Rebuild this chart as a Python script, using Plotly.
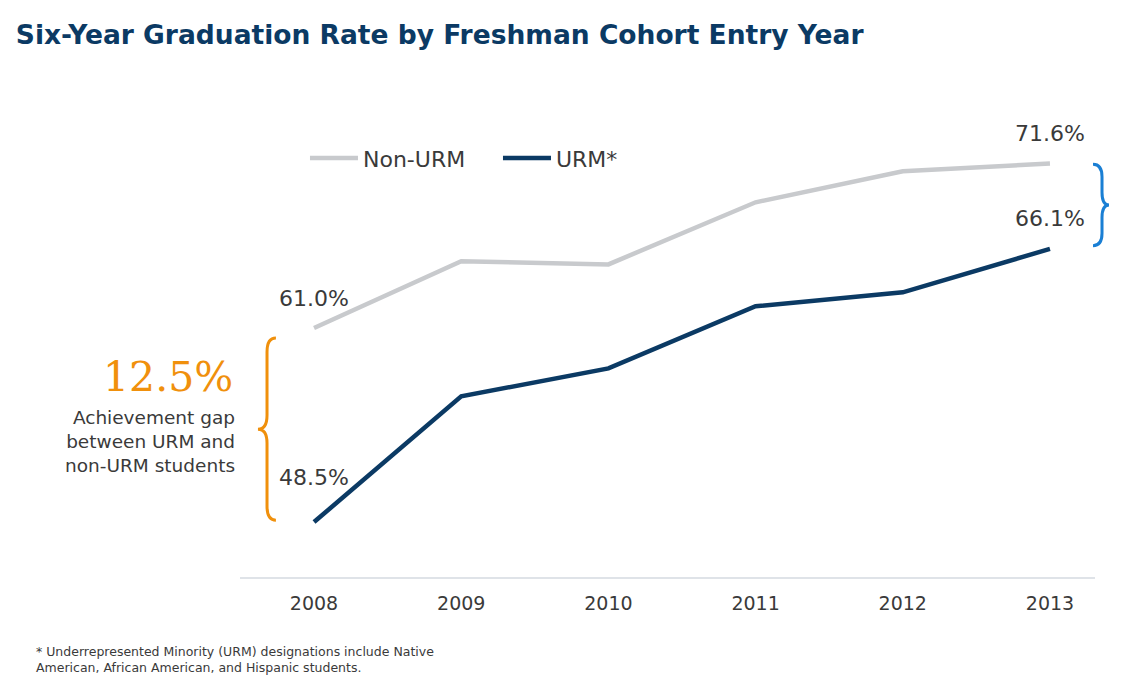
import plotly.graph_objects as go

years = [2008, 2009, 2010, 2011, 2012, 2013]
non_urm = [61.0, 65.3, 65.1, 69.1, 71.1, 71.6]
urm = [48.5, 56.6, 58.4, 62.4, 63.3, 66.1]
gap = round(non_urm[0] - urm[0], 1)

navy = "#0b3a64"
grey = "#c8cacd"
orange = "#f0900c"
blue = "#1a7fd4"
text_col = "#3a3a3a"

fig = go.Figure()
fig.add_trace(go.Scatter(x=years, y=non_urm, mode="lines", name="Non-URM",
                         line=dict(color=grey, width=4.5)))
fig.add_trace(go.Scatter(x=years, y=urm, mode="lines", name="URM*",
                         line=dict(color=navy, width=4.5)))

# end point labels
for series, shifts in [(non_urm, (30, 30)), (urm, (45, 30))]:
    for i, sh in zip([0, -1], shifts):
        fig.add_annotation(x=years[i], y=series[i], text=f"{series[i]:.1f}%",
                           showarrow=False, yshift=sh,
                           font=dict(size=22, color=text_col, family="DejaVu Sans"))


def brace(x_end, x_stem, x_tip, y_top, y_bot, d):
    ym = (y_top + y_bot) / 2
    return (f"M {x_end},{y_top} Q {x_stem},{y_top} {x_stem},{y_top - d} "
            f"L {x_stem},{ym + d} Q {x_stem},{ym} {x_tip},{ym} "
            f"Q {x_stem},{ym} {x_stem},{ym - d} "
            f"L {x_stem},{y_bot + d} Q {x_stem},{y_bot} {x_end},{y_bot}")


fig.add_shape(type="path", xref="paper", yref="y",
              path=brace(0.042, 0.0316, 0.021, non_urm[0] - 0.65, urm[0] + 0.12, 0.9),
              line=dict(color=orange, width=3))
fig.add_shape(type="path", xref="paper", yref="y",
              path=brace(0.9977, 1.0082, 1.0164, non_urm[-1] - 0.05, urm[-1] + 0.2, 0.8),
              line=dict(color=blue, width=3))

fig.add_annotation(xref="paper", yref="paper", x=-0.0055, y=0.42, xanchor="right",
                   text=f"{gap}%", showarrow=False,
                   font=dict(size=41, color=orange, family="DejaVu Serif"))
fig.add_annotation(xref="paper", yref="paper", x=-0.003, y=0.285, xanchor="right",
                   yanchor="middle", align="right", showarrow=False,
                   text="Achievement gap<br>between URM and<br>non-URM students",
                   font=dict(size=18.5, color=text_col, family="DejaVu Sans"))

fig.add_annotation(xref="paper", yref="paper", x=-0.241, y=-0.136, xanchor="left",
                   yanchor="top", align="left", showarrow=False,
                   text="* Underrepresented Minority (URM) designations include Native<br>"
                        "American, African American, and Hispanic students.",
                   font=dict(size=12.5, color=text_col, family="DejaVu Sans"))

fig.update_layout(
    width=1122, height=669,
    margin=dict(l=232, r=35, t=92, b=100),
    paper_bgcolor="white", plot_bgcolor="white",
    title=dict(text="<b>Six-Year Graduation Rate by Freshman Cohort Entry Year</b>",
               x=0.007, xanchor="left", y=0.96, yanchor="middle",
               font=dict(size=26.5, color=navy, family="DejaVu Sans")),
    legend=dict(orientation="h", x=0.076, y=0.878, xanchor="left", yanchor="middle",
                font=dict(size=22, color=text_col, family="DejaVu Sans"),
                itemwidth=48, entrywidth=130, bgcolor="rgba(0,0,0,0)"),
    xaxis=dict(range=[2007.497, 2013.306], tickvals=years, showgrid=False,
               showline=True, linecolor="#dfe3e8", linewidth=2, ticks="",
               zeroline=False, ticklabelstandoff=8,
               tickfont=dict(size=19, color=text_col, family="DejaVu Sans")),
    yaxis=dict(range=[44.96, 75.69], visible=False),
)

fig.write_html("out.html")
